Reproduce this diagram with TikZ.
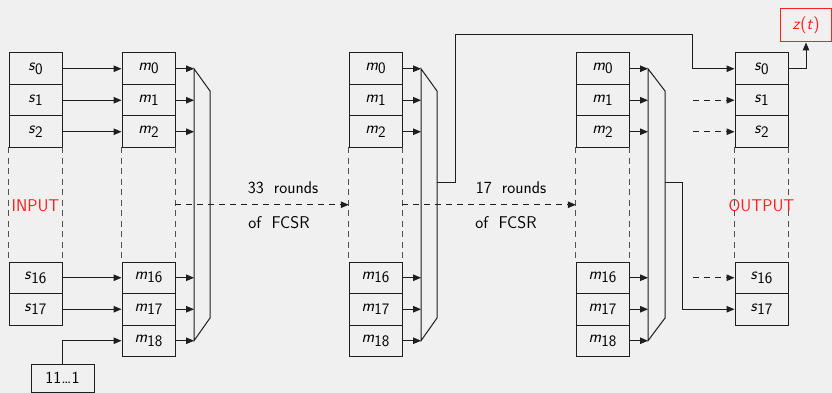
\documentclass[tikz,border=0pt]{standalone}
\usetikzlibrary{arrows.meta}
\definecolor{bg}{HTML}{F0F0F0}
\definecolor{ln}{HTML}{1E1E1E}
\definecolor{dl}{HTML}{505050}
\definecolor{rd}{HTML}{FF2020}
\newcommand\vsub[2]{\textit{#1}\raisebox{-0.45ex}{\fontsize{16}{16}\selectfont #2}}
\newcommand\wsp{\hspace{0.6em}}
\begin{document}
\begin{tikzpicture}[x=1pt,y=-1pt,
  font=\sffamily\fontsize{17}{19}\selectfont,
  reg/.style={draw=ln, line width=1pt, minimum width=53pt, minimum height=31.5pt, inner sep=0pt},
  dcol/.style={minimum width=53pt, minimum height=114.5pt, inner sep=0pt},
  dside/.style={draw=dl, line width=1pt, dash pattern=on 6pt off 4.5pt},
  arr/.style={draw=ln, line width=1pt, -{Triangle[length=8pt,width=6.5pt]}},
  darr/.style={arr, dash pattern=on 6pt off 5pt},
  bus/.style={draw=ln, line width=1pt},
  lbl/.style={inner sep=0pt}]
\useasboundingbox[fill=bg] (0,0) rectangle (832,393);

% column 1 : input s
\node[reg] (s0) at (35.5,68.75) {\vsub{s}{0}};
\node[reg] (s1) at (35.5,100.25) {\vsub{s}{1}};
\node[reg] (s2) at (35.5,131.75) {\vsub{s}{2}};
\node[dcol] (d1) at (35.5,204.75) {};
\node[reg] (s16) at (35.5,277.75) {\vsub{s}{16}};
\node[reg] (s17) at (35.5,309.25) {\vsub{s}{17}};
\draw[dside] (d1.north west) -- (d1.south west);
\draw[dside] (d1.north east) -- (d1.south east);
\node[lbl, text=rd] (inp) at (35.5,206) {INPUT};

% column 2 : m
\node[reg] (a0) at (148.5,68.75) {\vsub{m}{0}};
\node[reg] (a1) at (148.5,100.25) {\vsub{m}{1}};
\node[reg] (a2) at (148.5,131.75) {\vsub{m}{2}};
\node[dcol] (d2) at (148.5,204.75) {};
\node[reg] (a16) at (148.5,277.75) {\vsub{m}{16}};
\node[reg] (a17) at (148.5,309.25) {\vsub{m}{17}};
\node[reg] (a18) at (148.5,340.75) {\vsub{m}{18}};
\draw[dside] (d2.north west) -- (d2.south west);
\draw[dside] (d2.north east) -- (d2.south east);

% key
\node[reg, minimum width=63pt, minimum height=28pt] (k) at (62.5,378) {11\ldots1};

% s -> m
\draw[arr] (s0.east) -- (a0.west);
\draw[arr] (s1.east) -- (a1.west);
\draw[arr] (s2.east) -- (a2.west);
\draw[arr] (s16.east) -- (a16.west);
\draw[arr] (s17.east) -- (a17.west);
\draw[arr] (k.north) |- (a18.west);

% bus 2
\coordinate (p0) at (194,68.75);
\coordinate (p1) at (194,100.25);
\coordinate (p2) at (194,131.75);
\coordinate (p16) at (194,277.75);
\coordinate (p17) at (194,309.25);
\coordinate (p18) at (194,340.75);
\draw[bus] (p0) -- (210,91) -- (210,318) -- (p18) -- cycle;
\draw[arr] (a0.east) -- (p0);
\draw[arr] (a1.east) -- (p1);
\draw[arr] (a2.east) -- (p2);
\draw[arr] (a16.east) -- (p16);
\draw[arr] (a17.east) -- (p17);
\draw[arr] (a18.east) -- (p18);

% column 3 : m
\node[reg] (b0) at (375.5,68.75) {\vsub{m}{0}};
\node[reg] (b1) at (375.5,100.25) {\vsub{m}{1}};
\node[reg] (b2) at (375.5,131.75) {\vsub{m}{2}};
\node[dcol] (d3) at (375.5,204.75) {};
\node[reg] (b16) at (375.5,277.75) {\vsub{m}{16}};
\node[reg] (b17) at (375.5,309.25) {\vsub{m}{17}};
\node[reg] (b18) at (375.5,340.75) {\vsub{m}{18}};
\draw[dside] (d3.north west) -- (d3.south west);
\draw[dside] (d3.north east) -- (d3.south east);

\draw[darr] (d2.east) -- (d3.west);
\node[lbl] (r1a) at (283,188) {33\wsp rounds};
\node[lbl] (r1b) at (279,223) {of\wsp FCSR};

% bus 3
\coordinate (q0) at (421,68.75);
\coordinate (q1) at (421,100.25);
\coordinate (q2) at (421,131.75);
\coordinate (q16) at (421,277.75);
\coordinate (q17) at (421,309.25);
\coordinate (q18) at (421,340.75);
\coordinate (t3) at (437,182);
\draw[bus] (q0) -- (437,91) -- (437,318) -- (q18) -- cycle;
\draw[arr] (b0.east) -- (q0);
\draw[arr] (b1.east) -- (q1);
\draw[arr] (b2.east) -- (q2);
\draw[arr] (b16.east) -- (q16);
\draw[arr] (b17.east) -- (q17);
\draw[arr] (b18.east) -- (q18);

% column 4 : m
\node[reg] (c0) at (602.5,68.75) {\vsub{m}{0}};
\node[reg] (c1) at (602.5,100.25) {\vsub{m}{1}};
\node[reg] (c2) at (602.5,131.75) {\vsub{m}{2}};
\node[dcol] (d4) at (602.5,204.75) {};
\node[reg] (c16) at (602.5,277.75) {\vsub{m}{16}};
\node[reg] (c17) at (602.5,309.25) {\vsub{m}{17}};
\node[reg] (c18) at (602.5,340.75) {\vsub{m}{18}};
\draw[dside] (d4.north west) -- (d4.south west);
\draw[dside] (d4.north east) -- (d4.south east);

\draw[darr] (d3.east) -- (d4.west);
\node[lbl] (r2a) at (511,188) {17\wsp rounds};
\node[lbl] (r2b) at (506,223) {of\wsp FCSR};

% bus 4
\coordinate (u0) at (648,68.75);
\coordinate (u1) at (648,100.25);
\coordinate (u2) at (648,131.75);
\coordinate (u16) at (648,277.75);
\coordinate (u17) at (648,309.25);
\coordinate (u18) at (648,340.75);
\coordinate (t4) at (665,182);
\draw[bus] (u0) -- (665,91) -- (665,318) -- (u18) -- cycle;
\draw[arr] (c0.east) -- (u0);
\draw[arr] (c1.east) -- (u1);
\draw[arr] (c2.east) -- (u2);
\draw[arr] (c16.east) -- (u16);
\draw[arr] (c17.east) -- (u17);
\draw[arr] (c18.east) -- (u18);

% column 5 : output s
\node[reg] (o0) at (761.5,68.75) {\vsub{s}{0}};
\node[reg] (o1) at (761.5,100.25) {\vsub{s}{1}};
\node[reg] (o2) at (761.5,131.75) {\vsub{s}{2}};
\node[dcol] (d5) at (761.5,204.75) {};
\node[reg] (o16) at (761.5,277.75) {\vsub{s}{16}};
\node[reg] (o17) at (761.5,309.25) {\vsub{s}{17}};
\draw[dside] (d5.north west) -- (d5.south west);
\draw[dside] (d5.north east) -- (d5.south east);
\node[lbl, text=rd] (outp) at (761.5,206) {OUTPUT};

% feedback taps
\draw[arr] (t3) -- (455,182) -- (455,35) -- (692,35) |- (o0.west);
\draw[arr] (t4) -- (682,182) |- (o17.west);

% dashed inputs to output
\coordinate (e1) at (693,100.25);
\coordinate (e2) at (693,131.75);
\coordinate (e16) at (693,277.75);
\draw[darr] (e1) -- (o1.west);
\draw[darr] (e2) -- (o2.west);
\draw[darr] (e16) -- (o16.west);

% z(t)
\node[draw=rd, line width=1pt, minimum width=51pt, minimum height=33pt, inner sep=0pt, text=rd] (z) at (806,25.5) {\textit{z}(\textit{t})};
\draw[arr] (o0.east) -| (z.south);
\end{tikzpicture}
\end{document}
